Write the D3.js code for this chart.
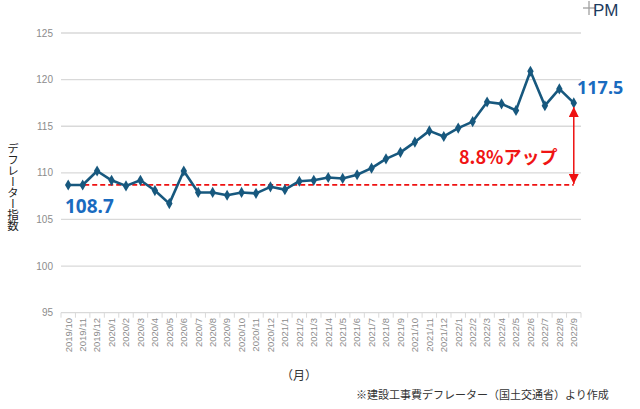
<!DOCTYPE html>
<html><head><meta charset="utf-8">
<script src="https://cdn.jsdelivr.net/npm/d3@7"></script>
<style>
html,body{margin:0;padding:0;background:#fff;}
svg{display:block;font-family:"Noto Sans CJK JP","Noto Sans",sans-serif;}
</style></head>
<body><svg id="c" width="640" height="409"></svg>
<script>
const categories = ["2019/10","2019/11","2019/12","2020/1","2020/2","2020/3","2020/4","2020/5","2020/6","2020/7","2020/8","2020/9","2020/10","2020/11","2020/12","2021/1","2021/2","2021/3","2021/4","2021/5","2021/6","2021/7","2021/8","2021/9","2021/10","2021/11","2021/12","2022/1","2022/2","2022/3","2022/4","2022/5","2022/6","2022/7","2022/8","2022/9"];
const values = [108.7,108.7,110.2,109.2,108.6,109.2,108.1,106.7,110.2,107.9,107.9,107.6,107.9,107.8,108.5,108.2,109.1,109.2,109.5,109.4,109.8,110.5,111.5,112.2,113.3,114.5,113.9,114.8,115.5,117.6,117.4,116.7,120.9,117.2,119.0,117.5];
const yTicks = [95,100,105,110,115,120,125];
const baseValue = 108.7;
const upLabel = "8.8%アップ";
const yTitle = "デフレーター指数";
const xTitle = "（月）";
const note = "※建設工事費デフレーター（国土交通省）より作成";

const svg = d3.select("#c");
const x = d3.scaleBand().domain(categories).range([61,581]);
const y = d3.scaleLinear().domain([95,125]).range([312.7,33]);
const cx = d => x(d) + x.bandwidth()/2;

// gridlines
svg.append("g").selectAll("line").data(yTicks).join("line")
  .attr("x1",61).attr("x2",581).attr("y1",d=>y(d)).attr("y2",d=>y(d))
  .attr("stroke","#d9d9d9").attr("stroke-width",1.3);
// y labels
svg.append("g").selectAll("text").data(yTicks).join("text")
  .attr("x",53).attr("y",d=>y(d)).attr("dy","0.35em").attr("text-anchor","end")
  .attr("font-size",10).attr("fill","#8c8c8c").attr("font-family","Liberation Sans, Arial, sans-serif").text(d=>d);
// x ticks
const bounds = categories.map(c=>x(c)).concat([581]);
svg.append("g").selectAll("line").data(bounds).join("line")
  .attr("x1",d=>d).attr("x2",d=>d).attr("y1",y(95)).attr("y2",y(95)+5)
  .attr("stroke","#d9d9d9").attr("stroke-width",1);
// x labels
svg.append("g").selectAll("text").data(categories).join("text")
  .attr("transform",d=>`translate(${cx(d)},318) rotate(-90)`)
  .attr("dy","0.35em").attr("text-anchor","end")
  .attr("font-size",9.5).attr("fill","#8c8c8c").attr("font-family","Liberation Sans, Arial, sans-serif").text(d=>d);

// base dashed line
svg.append("line")
  .attr("x1",cx(categories[0])).attr("x2",cx(categories[categories.length-1]))
  .attr("y1",y(baseValue)).attr("y2",y(baseValue))
  .attr("stroke","#ee1111").attr("stroke-width",1.8).attr("stroke-dasharray","5,3");

// series line
const line = d3.line().x((d,i)=>cx(categories[i])).y(d=>y(d));
svg.append("path").datum(values).attr("d",line)
  .attr("fill","none").attr("stroke","#17587e").attr("stroke-width",2.6).attr("stroke-linejoin","round");
svg.append("g").selectAll("path").data(values).join("path")
  .attr("transform",(d,i)=>`translate(${cx(categories[i])},${y(d)})`)
  .attr("d",d3.symbol(d3.symbolDiamond,36)).attr("fill","#17587e");

// arrow
const last = values[values.length-1];
const ax = cx(categories[categories.length-1]);
const defs = svg.append("defs");
defs.append("marker").attr("id","ah").attr("viewBox","0 0 10 10").attr("refX",10).attr("refY",5)
  .attr("markerWidth",10).attr("markerHeight",10).attr("markerUnits","userSpaceOnUse").attr("orient","auto-start-reverse")
  .append("path").attr("d","M0,0 L10,5 L0,10 Z").attr("fill","#ee1111");
svg.append("line").attr("x1",ax).attr("x2",ax).attr("y1",y(last)+4).attr("y2",y(baseValue)-1)
  .attr("stroke","#ee1111").attr("stroke-width",1.5)
  .attr("marker-start","url(#ah)").attr("marker-end","url(#ah)");

svg.append("text").attr("x",459).attr("y",164).attr("font-size",18).attr("font-weight","bold")
  .attr("fill","#f01414").text(upLabel);
svg.append("text").attr("x",577).attr("y",94).attr("font-size",18).attr("font-weight","bold")
  .attr("fill","#1a6bbf").attr("font-family","Noto Sans, sans-serif").text(last.toFixed(1));
svg.append("text").attr("x",65).attr("y",213).attr("font-size",19).attr("font-weight","bold")
  .attr("fill","#1a6bbf").attr("font-family","Noto Sans, sans-serif").text(baseValue.toFixed(1));

// y title vertical
svg.append("text").attr("x",13).attr("y",143).attr("font-size",11.5).attr("fill","#222")
  .style("writing-mode","vertical-rl").style("text-orientation","upright").attr("letter-spacing",-0.5)
  .text(yTitle);

svg.append("text").attr("x",299).attr("y",380).attr("text-anchor","middle").attr("font-size",12).attr("fill","#333").text(xTitle);
svg.append("text").attr("x",356).attr("y",399).attr("font-size",11).attr("fill","#333").text(note);

// logo
const logo = svg.append("g");
logo.append("line").attr("x1",583).attr("x2",595).attr("y1",8).attr("y2",8).attr("stroke","#a0a0a0").attr("stroke-width",1.3);
logo.append("line").attr("x1",589).attr("x2",589).attr("y1",1).attr("y2",15).attr("stroke","#a0a0a0").attr("stroke-width",1.3);
logo.append("text").attr("x",593).attr("y",15.5).attr("font-size",17).attr("fill","#1c3a5e").attr("font-family","Liberation Sans, Arial, sans-serif").text("PM");
</script></body></html>
